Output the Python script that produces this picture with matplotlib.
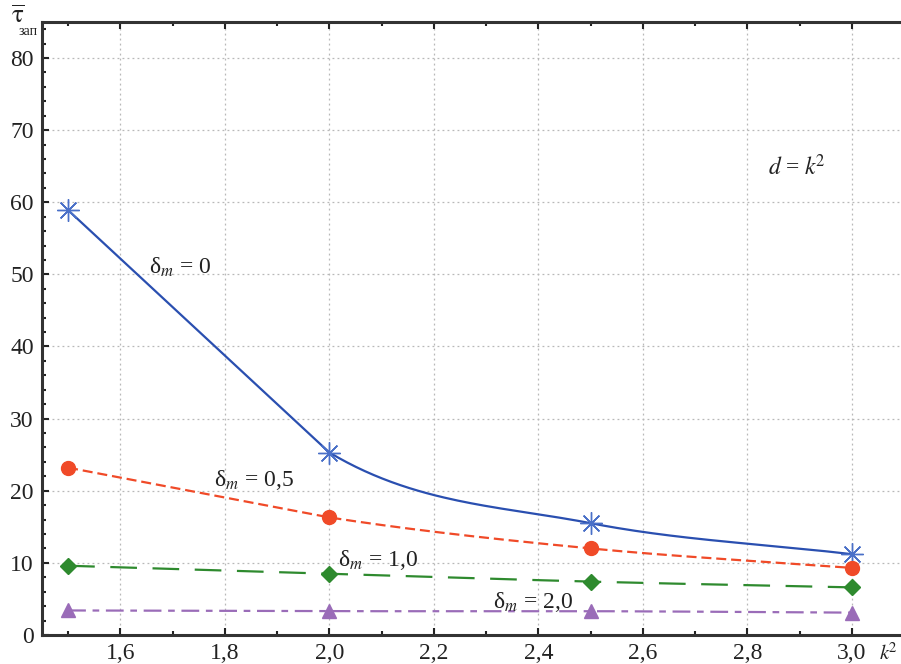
import numpy as np
import matplotlib
matplotlib.use("Agg")
import matplotlib.pyplot as plt
from matplotlib.ticker import MultipleLocator, FuncFormatter

plt.rcParams['font.family'] = ['Liberation Serif', 'DejaVu Serif']
plt.rcParams['mathtext.fontset'] = 'stix'

# ---------------- data ----------------
k2 = [1.5, 2.0, 2.5, 3.0]
tau_d0 = [58.9, 25.3, 15.5, 11.2]
tau_d05 = [23.2, 16.3, 12.0, 9.3]
tau_d10 = [9.6, 8.5, 7.4, 6.6]
tau_d20 = [3.4, 3.3, 3.3, 3.1]

labels = ['δ$_m$ = 0', 'δ$_m$ = 0,5', 'δ$_m$ = 1,0', 'δ$_m$ = 2,0']
label_pos = [(1.654, 51.0), (1.779, 21.5), (2.017, 10.4), (2.313, 4.6)]


def smooth(x, y, n=60):
    # cubic hermite pieces, catmull-rom tangents, first piece kept straight
    x = np.asarray(x, float)
    y = np.asarray(y, float)
    d = np.diff(y) / np.diff(x)
    m = np.empty_like(y)
    m[0] = d[0]
    m[-1] = d[-1]
    m[1:-1] = (y[2:] - y[:-2]) / (x[2:] - x[:-2])
    xs_all, ys_all = [], []
    for k in range(len(x) - 1):
        h = x[k + 1] - x[k]
        m0 = m[k]
        m1 = d[0] if k == 0 else m[k + 1]
        t = np.linspace(0, 1, n)
        h00 = 2 * t**3 - 3 * t**2 + 1
        h10 = t**3 - 2 * t**2 + t
        h01 = -2 * t**3 + 3 * t**2
        h11 = t**3 - t**2
        xs_all.append(x[k] + t * h)
        ys_all.append(h00 * y[k] + h10 * h * m0 + h01 * y[k + 1] + h11 * h * m1)
    return np.concatenate(xs_all), np.concatenate(ys_all)


fig = plt.figure(figsize=(9.01, 6.64), dpi=100)
ax = fig.add_axes([0.0466, 0.0437, 0.9534, 0.9233])

styles = [
    dict(color='#2a4fb0', marker=(8, 2, 0), mcolor='#4a70c8', ms=16, dashes=None),
    dict(color='#f04a28', marker='o', mcolor='#f04a28', ms=10, dashes=(4.5, 2.2)),
    dict(color='#2e8a2e', marker='D', mcolor='#2e8a2e', ms=8, dashes=(12, 7)),
    dict(color='#9a6cb8', marker='^', mcolor='#9a6cb8', ms=10, dashes=(8, 3, 3, 3)),
]

for ys, st in zip([tau_d0, tau_d05, tau_d10, tau_d20], styles):
    sx, sy = smooth(k2, ys)
    line, = ax.plot(sx, sy, color=st['color'], lw=1.6, zorder=3)
    if st['dashes']:
        line.set_dashes(st['dashes'])
    if st['marker'] == (8, 2, 0):
        ax.plot(k2, ys, ls='none', marker=st['marker'], ms=st['ms'], mew=1.0,
                color=st['mcolor'], zorder=4)
    else:
        ax.plot(k2, ys, ls='none', marker=st['marker'], ms=st['ms'],
                color=st['mcolor'], mec=st['mcolor'], zorder=4)

for txt, (tx, ty) in zip(labels, label_pos):
    ax.text(tx, ty, txt, fontsize=17, va='center', ha='left', color='#222222', zorder=5)

ax.text(2.839, 64.8, '$d$ = $k$$^2$', fontsize=17, va='center', ha='left', color='#222222')

ax.set_xlim(1.45, 3.094)
ax.set_ylim(0, 85)

ax.xaxis.set_major_locator(MultipleLocator(0.2))
ax.xaxis.set_minor_locator(MultipleLocator(0.1))
ax.yaxis.set_major_locator(MultipleLocator(10))
ax.yaxis.set_minor_locator(MultipleLocator(2))
ax.xaxis.set_major_formatter(FuncFormatter(lambda v, p: f'{v:.1f}'.replace('.', ',')))
ax.yaxis.set_major_formatter(FuncFormatter(lambda v, p: f'{v:.0f}'))

ax.grid(True, which='major', ls=(0, (1.5, 2.5)), color='#b8b8b8', lw=0.9)
ax.tick_params(which='both', direction='in', top=True, bottom=True, left=True, right=False,
               labelsize=17, colors='#222222', width=1.5)
ax.tick_params(which='major', length=5, pad=6)
ax.tick_params(which='minor', length=3)

for side in ['left', 'bottom', 'top']:
    ax.spines[side].set_linewidth(2.2)
    ax.spines[side].set_color('#333333')
ax.spines['right'].set_visible(False)

ax.text(3.069, -2.7, '$k$$^2$', fontsize=15, va='center', ha='center', color='#222222',
        clip_on=False)

fig.text(0.012, 0.975, r'$\overline{\mathrm{\tau}}$', fontsize=18, va='center', ha='left',
         color='#222222')
fig.text(0.021, 0.952, 'зап', fontsize=10, va='center', ha='left', color='#222222')

fig.savefig('out.png', dpi=100)
